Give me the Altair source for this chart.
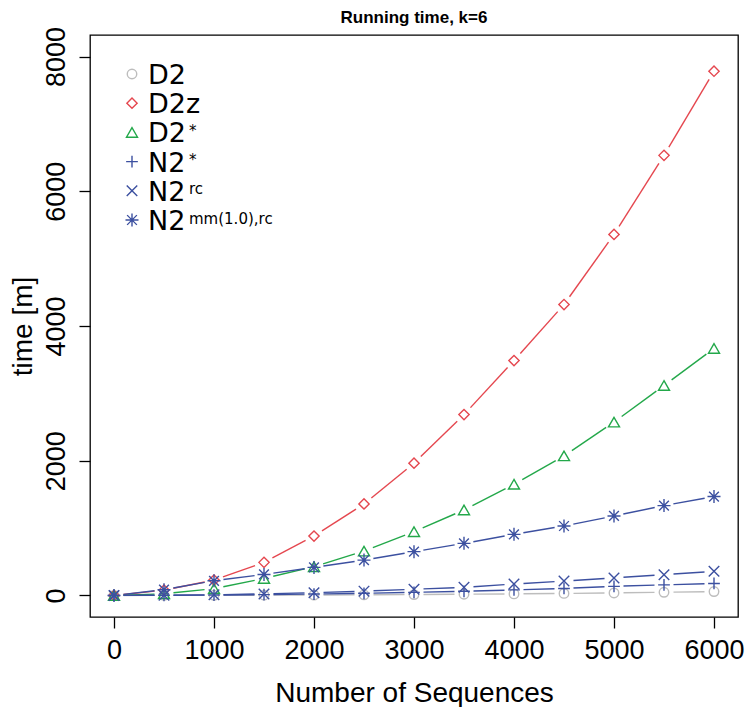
import altair as alt
import pandas as pd

# ---------------- data ----------------
n_seq = [0, 500, 1000, 1500, 2000, 2500, 3000, 3500, 4000, 4500, 5000, 5500, 6000]
series_names = ["D2", "D2z", "D2*", "N2*", "N2rc", "N2mm"]
t_D2 = [0, 1, 2, 4, 6, 9, 13, 18, 23, 30, 37, 47, 58]
t_D2z = [0, 79, 228, 491, 882, 1358, 1963, 2685, 3487, 4319, 5359, 6533, 7782]
t_D2s = [0, 25, 100, 253, 427, 659, 947, 1269, 1650, 2072, 2573, 3116, 3666]
t_N2s = [0, 2, 6, 12, 21, 32, 46, 62, 82, 104, 135, 157, 178]
t_N2rc = [0, 3, 10, 23, 41, 64, 92, 120, 170, 213, 260, 308, 358]
t_N2mm = [0, 85, 218, 312, 416, 525, 650, 773, 907, 1031, 1180, 1334, 1468]
values = [t_D2, t_D2z, t_D2s, t_N2s, t_N2rc, t_N2mm]

legend_main = ["D2", "D2z", "D2", "N2", "N2", "N2"]
legend_sup = ["", "", "*", "*", "rc", "mm(1.0),rc"]

x_ticks = [0, 1000, 2000, 3000, 4000, 5000, 6000]
y_ticks = [0, 2000, 4000, 6000, 8000]

colors = ["#BDBDBD", "#E5474F", "#23A84A", "#3C50A0", "#3C50A0", "#3C50A0"]
shapes = [
    "circle",
    "diamond",
    "triangle-up",
    "M-1,0L1,0M0,-1L0,1",
    "M-0.85,-0.85L0.85,0.85M-0.85,0.85L0.85,-0.85",
    "M-1,0L1,0M0,-1L0,1M-0.75,-0.75L0.75,0.75M-0.75,0.75L0.75,-0.75",
]
sizes = [90, 169, 144, 144, 144, 144]

rows = []
for s, vals in zip(series_names, values):
    for n, t in zip(n_seq, vals):
        rows.append({"series": s, "n": n, "t": t})
df = pd.DataFrame(rows)

leg = pd.DataFrame({
    "series": series_names,
    "main": legend_main,
    "sup": legend_sup,
    "idx": list(range(len(series_names))),
})

# ---------------- geometry ----------------
W, H = 648, 582
XD = [-240, 6240]
YD = [-320, 8320]
SX = W / (XD[1] - XD[0])
SY = H / (YD[1] - YD[0])
GAP = 9.5

color = alt.Color("series:N", scale=alt.Scale(domain=series_names, range=colors), legend=None)
shape = alt.Shape("series:N", scale=alt.Scale(domain=series_names, range=shapes), legend=None)
size = alt.Size("series:N", scale=alt.Scale(domain=series_names, range=sizes), legend=None)

FONT = "Liberation Sans"
xaxis = alt.Axis(values=x_ticks, format="d", title="Number of Sequences", grid=False, domain=False,
                 labelFont=FONT, labelFontSize=27, labelColor="black", labelPadding=9,
                 labelFlush=False, labelOverlap=False,
                 tickSize=11, tickColor="black", tickWidth=1.3,
                 titleFont=FONT, titleFontSize=28, titleFontWeight="normal", titleColor="black",
                 titleY=84, titleBaseline="alphabetic")
yaxis = alt.Axis(values=y_ticks, format="d", title="time [m]", grid=False, domain=False,
                 labelFont=FONT, labelFontSize=27, labelColor="black", labelPadding=15,
                 labelAngle=270, labelAlign="center", labelBaseline="alphabetic",
                 labelFlush=False, labelOverlap=False,
                 tickSize=11, tickColor="black", tickWidth=1.3,
                 titleFont=FONT, titleFontSize=28, titleFontWeight="normal", titleColor="black",
                 titleAngle=270, titleX=-67, titleY=H / 2, titleAlign="center", titleBaseline="middle")

xs = alt.Scale(domain=XD, nice=False, zero=False)
ys = alt.Scale(domain=YD, nice=False, zero=False)

base = alt.Chart(df)

segments = base.transform_window(
    n2="lead(n)", t2="lead(t)", groupby=["series"], sort=[alt.SortField("n")]
).transform_filter(
    "isValid(datum.n2)"
).transform_calculate(
    L=f"sqrt(pow((datum.n2-datum.n)*{SX},2)+pow((datum.t2-datum.t)*{SY},2))"
).transform_filter(
    f"datum.L > {2 * GAP}"
).transform_calculate(
    f=f"{GAP}/datum.L"
).transform_calculate(
    xa="datum.n+(datum.n2-datum.n)*datum.f",
    xb="datum.n2-(datum.n2-datum.n)*datum.f",
    ya="datum.t+(datum.t2-datum.t)*datum.f",
    yb="datum.t2-(datum.t2-datum.t)*datum.f",
).mark_rule(strokeWidth=1.4).encode(
    x=alt.X("xa:Q", scale=xs, axis=xaxis),
    x2="xb:Q",
    y=alt.Y("ya:Q", scale=ys, axis=yaxis),
    y2="yb:Q",
    color=color,
)

points = base.mark_point(filled=False, strokeWidth=1.4, opacity=1).encode(
    x=alt.X("n:Q", scale=xs, axis=xaxis),
    y=alt.Y("t:Q", scale=ys, axis=yaxis),
    color=color, shape=shape, size=size,
)

data_layer = alt.layer(segments, points)

legbase = alt.Chart(leg).transform_calculate(ly="39 + datum.idx*29.2")
leg_pts = legbase.mark_point(filled=False, strokeWidth=1.4, opacity=1).encode(
    x=alt.value(42),
    y=alt.Y("ly:Q", scale=None, axis=None),
    color=color, shape=shape, size=size,
)
leg_main = legbase.mark_text(font="DejaVu Sans", fontSize=27, align="left",
                             baseline="alphabetic", dy=10, color="black").encode(
    x=alt.value(58),
    y=alt.Y("ly:Q", scale=None, axis=None),
    text="main:N",
)
leg_sup = legbase.mark_text(font="DejaVu Sans", fontSize=15, align="left",
                            baseline="alphabetic", dy=3.5, color="black").encode(
    x=alt.value(99),
    y=alt.Y("ly:Q", scale=None, axis=None),
    text="sup:N",
)
legend_layer = alt.layer(leg_pts, leg_main, leg_sup)

chart = alt.layer(data_layer, legend_layer).resolve_scale(
    x="independent", y="independent"
).properties(
    width=W, height=H,
    title=alt.TitleParams("Running time, k=6", font=FONT, fontSize=17, fontWeight="bold",
                          color="black", anchor="middle", baseline="alphabetic", offset=0, dy=13),
    autosize=alt.AutoSizeParams(type="none"),
    padding={"left": 82, "top": 27, "right": 7, "bottom": 90},
).configure_view(stroke="black", strokeWidth=1.3)

chart.save("out.html", embed_options={"renderer": "svg", "actions": False})
